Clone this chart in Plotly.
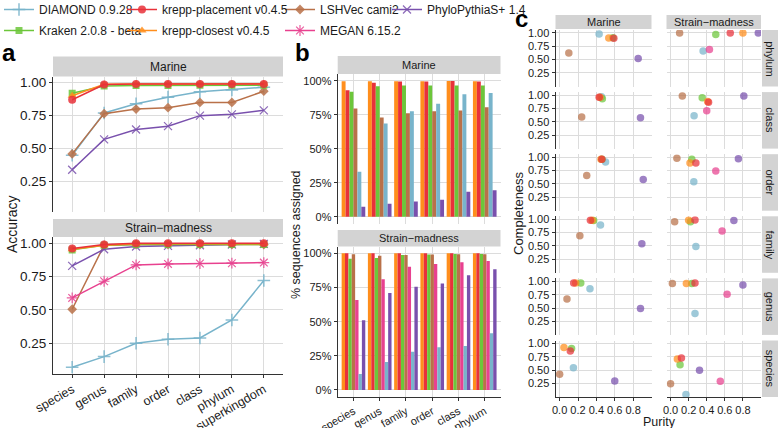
import plotly.graph_objects as go

W, H = 778, 428
FONT = "Liberation Sans, Arial, Helvetica, sans-serif"
GRID = "#DCDCDC"
AXLINE = "#333333"
STRIP = "#D3D3D3"
TXT = "#1A1A1A"

# ---------------- data ----------------
methods = ["DIAMOND 0.9.28", "Kraken 2.0.8 - beta", "krepp-placement v0.4.5",
           "krepp-closest v0.4.5", "LSHVec cami2", "MEGAN 6.15.2", "PhyloPythiaS+ 1.4"]
ranks_a = ["species", "genus", "family", "order", "class", "phylum", "superkingdom"]
ranks_b = ["species", "genus", "family", "order", "class", "phylum"]
ranks_c = ["species", "genus", "family", "order", "class", "phylum"]
datasets = ["Marine", "Strain\u2212madness"]

# panel a: accuracy (species ... superkingdom)
acc_marine_diamond = [0.45, 0.77, 0.84, 0.89, 0.93, 0.945, 0.965]
acc_marine_kraken = [0.92, 0.975, 0.978, 0.978, 0.98, 0.98, 0.98]
acc_marine_placement = [0.87, 0.985, 0.99, 0.99, 0.99, 0.99, 0.99]
acc_marine_closest = [0.90, 0.987, 0.99, 0.99, 0.992, 0.992, 0.992]
acc_marine_lshvec = [0.46, 0.765, 0.80, 0.81, 0.85, 0.85, 0.935]
acc_marine_phylo = [0.34, 0.57, 0.645, 0.67, 0.75, 0.76, 0.79]

acc_sm_diamond = [0.07, 0.15, 0.25, 0.28, 0.29, 0.425, 0.72]
acc_sm_kraken = [0.95, 0.985, 0.99, 0.99, 0.99, 0.99, 0.99]
acc_sm_placement = [0.96, 0.99, 1.0, 1.0, 1.0, 1.0, 1.0]
acc_sm_closest = [0.955, 0.985, 0.995, 0.995, 0.995, 0.995, 0.995]
acc_sm_lshvec = [0.505, 0.985, 0.99, 0.99, 0.99, 0.99, 0.99]
acc_sm_megan = [0.59, 0.715, 0.837, 0.845, 0.848, 0.85, 0.855]
acc_sm_phylo = [0.83, 0.955, 0.975, 0.98, 0.985, 0.99, 0.995]

# panel b: % sequences assigned (species ... phylum)
pct_marine_closest = [99.6, 99.6, 99.6, 99.6, 99.8, 99.6]
pct_marine_placement = [93.0, 98.5, 99.5, 99.5, 99.8, 99.5]
pct_marine_kraken = [91.8, 96.0, 96.5, 96.5, 96.5, 96.5]
pct_marine_lshvec = [79.5, 73.0, 76.0, 77.5, 78.0, 80.5]
pct_marine_diamond = [33.0, 68.5, 77.5, 83.0, 90.0, 91.0]
pct_marine_phylo = [7.3, 9.6, 11.2, 12.5, 18.4, 19.4]

pct_sm_closest = [100, 100, 100, 100, 100, 100]
pct_sm_placement = [100, 100, 100, 100, 100, 100]
pct_sm_kraken = [96.0, 96.6, 98.8, 99.2, 99.5, 99.5]
pct_sm_lshvec = [99.4, 98.2, 98.8, 99.2, 99.4, 99.4]
pct_sm_megan = [65.9, 81.0, 90.2, 92.2, 93.4, 94.4]
pct_sm_diamond = [11.7, 20.5, 28.0, 31.2, 32.2, 41.5]
pct_sm_phylo = [51.0, 71.0, 75.6, 78.0, 84.0, 88.3]

# panel c: purity / completeness (species ... phylum)
pur_marine_diamond = [0.15, 0.33, 0.445, 0.50, 0.455, 0.43]
com_marine_diamond = [0.545, 0.86, 0.89, 0.91, 0.97, 0.98]
pur_marine_lshvec = [0.0, 0.08, 0.22, 0.295, 0.24, 0.10]
com_marine_lshvec = [0.425, 0.67, 0.69, 0.655, 0.59, 0.625]
pur_marine_phylo = [0.60, 0.88, 0.895, 0.91, 0.88, 0.855]
com_marine_phylo = [0.295, 0.49, 0.54, 0.58, 0.575, 0.52]
pur_marine_kraken = [0.13, 0.23, 0.37, 0.46, 0.465, 0.58]
com_marine_kraken = [0.905, 0.97, 0.975, 0.96, 0.93, 0.91]
pur_marine_closest = [0.047, 0.175, 0.355, 0.45, 0.44, 0.535]
com_marine_closest = [0.925, 0.97, 0.98, 0.96, 0.96, 0.905]
pur_marine_placement = [0.116, 0.153, 0.335, 0.46, 0.43, 0.59]
com_marine_placement = [0.86, 0.97, 0.98, 0.96, 0.96, 0.90]

pur_sm_diamond = [0.17, 0.27, 0.28, 0.257, 0.26, 0.36]
com_sm_diamond = [0.045, 0.40, 0.49, 0.54, 0.61, 0.66]
pur_sm_lshvec = [0.0, 0.02, 0.045, 0.07, 0.13, 0.10]
com_sm_lshvec = [0.245, 0.96, 0.955, 0.98, 0.98, 1.0]
pur_sm_megan = [0.55, 0.625, 0.57, 0.50, 0.40, 0.43]
com_sm_megan = [0.29, 0.76, 0.78, 0.74, 0.705, 0.69]
pur_sm_phylo = [0.32, 0.80, 0.70, 0.75, 0.81, 0.97]
com_sm_phylo = [0.50, 0.93, 0.975, 0.97, 0.98, 1.0]
pur_sm_kraken = [0.105, 0.235, 0.22, 0.235, 0.35, 0.50]
com_sm_kraken = [0.60, 0.96, 0.955, 0.96, 0.95, 0.97]
pur_sm_closest = [0.075, 0.175, 0.20, 0.215, 0.41, 0.80]
com_sm_closest = [0.71, 0.96, 0.98, 0.89, 0.88, 1.0]
pur_sm_placement = [0.12, 0.27, 0.27, 0.28, 0.42, 0.66]
com_sm_placement = [0.725, 0.97, 0.985, 0.89, 0.865, 1.0]

# ---------------- styles ----------------
COL = {
    "DIAMOND 0.9.28": "#78B4CB",
    "Kraken 2.0.8 - beta": "#6CC63A",
    "krepp-placement v0.4.5": "#E8313A",
    "krepp-closest v0.4.5": "#FF8E1C",
    "LSHVec cami2": "#B97149",
    "MEGAN 6.15.2": "#E8418F",
    "PhyloPythiaS+ 1.4": "#7950AD",
}
SYM = {
    "DIAMOND 0.9.28": ("cross-thin", 9, 1.5),
    "Kraken 2.0.8 - beta": ("square", 7, 0),
    "krepp-placement v0.4.5": ("circle", 8, 0),
    "krepp-closest v0.4.5": ("triangle-up", 8, 0),
    "LSHVec cami2": ("diamond", 7.5, 0),
    "MEGAN 6.15.2": ("asterisk", 9, 1.2),
    "PhyloPythiaS+ 1.4": ("x-thin", 8, 1.2),
}
LEG = {
    "DIAMOND 0.9.28": ("legend", 1),
    "Kraken 2.0.8 - beta": ("legend", 2),
    "krepp-placement v0.4.5": ("legend2", 1),
    "krepp-closest v0.4.5": ("legend2", 2),
    "LSHVec cami2": ("legend3", 1),
    "MEGAN 6.15.2": ("legend3", 2),
    "PhyloPythiaS+ 1.4": ("legend4", 1),
}

fig = go.Figure()
axes = {}
shapes = []
annotations = []
count = [0]


def new_axes(x0, x1, y0, y1, xkw, ykw):
    count[0] += 1
    i = count[0]
    s = "" if i == 1 else str(i)
    axes["xaxis" + s] = dict(domain=[x0 / W, x1 / W], anchor="y" + s, **xkw)
    axes["yaxis" + s] = dict(domain=[1 - y1 / H, 1 - y0 / H], anchor="x" + s, **ykw)
    return "x" + s, "y" + s


def base(show_labels=False, line=False, ticks=False, size=12, **kw):
    d = dict(showgrid=True, gridcolor=GRID, gridwidth=1.1, zeroline=False,
             showline=line, linecolor=AXLINE, linewidth=1,
             ticks="outside" if ticks else "", ticklen=3, tickcolor=AXLINE,
             showticklabels=show_labels, fixedrange=True, automargin=False,
             tickfont=dict(family=FONT, size=size, color=TXT))
    d.update(kw)
    return d


def strip(x0, x1, y0, y1, text, size, angle=0):
    shapes.append(dict(type="rect", xref="paper", yref="paper",
                       x0=x0 / W, x1=x1 / W, y0=1 - y1 / H, y1=1 - y0 / H,
                       fillcolor=STRIP, line=dict(width=0)))
    annotations.append(dict(xref="paper", yref="paper", x=(x0 + x1) / 2 / W,
                            y=1 - (y0 + y1) / 2 / H, text=text, showarrow=False,
                            textangle=angle, xanchor="center", yanchor="middle",
                            font=dict(family=FONT, size=size, color=TXT)))


def label(x, y, text, size, angle=0, bold=False, xanchor="center"):
    annotations.append(dict(xref="paper", yref="paper", x=x / W, y=1 - y / H,
                            text=("<b>%s</b>" % text) if bold else text,
                            showarrow=False, textangle=angle, xanchor=xanchor,
                            yanchor="middle",
                            font=dict(family=FONT, size=size, color="#000" if bold else TXT)))


# ---------------- panel a ----------------
ya_ticks = dict(tickvals=[0.25, 0.5, 0.75, 1.0], ticktext=["0.25", "0.50", "0.75", "1.00"])
a_rows = [(76.5, 211.5, 56.5, False), (237.0, 373.5, 219.0, True)]
a_series = [
    [("DIAMOND 0.9.28", acc_marine_diamond), ("LSHVec cami2", acc_marine_lshvec),
     ("PhyloPythiaS+ 1.4", acc_marine_phylo), ("Kraken 2.0.8 - beta", acc_marine_kraken),
     ("krepp-closest v0.4.5", acc_marine_closest), ("krepp-placement v0.4.5", acc_marine_placement)],
    [("DIAMOND 0.9.28", acc_sm_diamond), ("LSHVec cami2", acc_sm_lshvec),
     ("MEGAN 6.15.2", acc_sm_megan), ("PhyloPythiaS+ 1.4", acc_sm_phylo),
     ("Kraken 2.0.8 - beta", acc_sm_kraken), ("krepp-closest v0.4.5", acc_sm_closest),
     ("krepp-placement v0.4.5", acc_sm_placement)],
]
shown = set()
for r, (y0, y1, sy, bottom) in enumerate(a_rows):
    xr, yr = new_axes(53, 283, y0, y1,
                      base(show_labels=bottom, line=bottom, ticks=bottom, size=12.5,
                           type="category", categoryorder="array", categoryarray=ranks_a,
                           range=[-0.6, 6.6], tickangle=-30),
                      base(show_labels=True, line=True, ticks=True, size=13.5,
                           range=[0.0235, 1.0465], **ya_ticks))
    strip(53, 283, sy, y0, datasets[r], 12)
    for name, vals in a_series[r]:
        sym, sz, lw = SYM[name]
        lg, rank = LEG[name]
        fig.add_trace(go.Scatter(
            x=ranks_a, y=vals, mode="lines+markers", name=name,
            xaxis=xr, yaxis=yr, legend=lg, legendrank=rank, legendgroup=name,
            showlegend=name not in shown,
            line=dict(color=COL[name], width=1.5),
            marker=dict(symbol=sym, size=sz, color=COL[name], opacity=0.85,
                        line=dict(color=COL[name], width=lw)),
            hoverinfo="skip"))
        shown.add(name)

label(12, 224, "Accuracy", 14, angle=-90)
label(0, 52, "a", 24, bold=True, xanchor="left")

# ---------------- panel b ----------------
b_rows = [(73.9, 223.5, 56.0, False), (246.5, 396.8, 230.0, True)]
b_series = [
    [("krepp-closest v0.4.5", pct_marine_closest), ("krepp-placement v0.4.5", pct_marine_placement),
     ("Kraken 2.0.8 - beta", pct_marine_kraken), ("LSHVec cami2", pct_marine_lshvec),
     ("DIAMOND 0.9.28", pct_marine_diamond), ("PhyloPythiaS+ 1.4", pct_marine_phylo)],
    [("krepp-closest v0.4.5", pct_sm_closest), ("krepp-placement v0.4.5", pct_sm_placement),
     ("Kraken 2.0.8 - beta", pct_sm_kraken), ("LSHVec cami2", pct_sm_lshvec),
     ("MEGAN 6.15.2", pct_sm_megan), ("DIAMOND 0.9.28", pct_sm_diamond),
     ("PhyloPythiaS+ 1.4", pct_sm_phylo)],
]
for r, (y0, y1, sy, bottom) in enumerate(b_rows):
    xr, yr = new_axes(337.7, 500.5, y0, y1,
                      base(show_labels=bottom, line=bottom, ticks=bottom, size=11,
                           type="category", categoryorder="array", categoryarray=ranks_b,
                           range=[-0.6, 5.6], tickangle=-30),
                      base(show_labels=True, line=True, ticks=True, size=11,
                           range=[-5, 105], tickvals=[0, 25, 50, 75, 100],
                           ticktext=["0%", "25%", "50%", "75%", "100%"]))
    strip(337.7, 500.5, sy, y0, datasets[r], 11)
    for name, vals in b_series[r]:
        fig.add_trace(go.Bar(x=ranks_b, y=vals, name=name, xaxis=xr, yaxis=yr,
                             marker=dict(color=COL[name], line=dict(width=0)),
                             showlegend=False, hoverinfo="skip"))

label(296, 235, "% sequences assigned", 12.5, angle=-90)
label(293, 52, "b", 24, bold=True, xanchor="left")

# ---------------- panel c ----------------
c_cols = [(555.5, 651.5), (666.5, 761.0)]
row_names = ["phylum", "class", "order", "family", "genus", "species"]
c_series = [
    [("DIAMOND 0.9.28", pur_marine_diamond, com_marine_diamond),
     ("LSHVec cami2", pur_marine_lshvec, com_marine_lshvec),
     ("PhyloPythiaS+ 1.4", pur_marine_phylo, com_marine_phylo),
     ("Kraken 2.0.8 - beta", pur_marine_kraken, com_marine_kraken),
     ("krepp-closest v0.4.5", pur_marine_closest, com_marine_closest),
     ("krepp-placement v0.4.5", pur_marine_placement, com_marine_placement)],
    [("DIAMOND 0.9.28", pur_sm_diamond, com_sm_diamond),
     ("LSHVec cami2", pur_sm_lshvec, com_sm_lshvec),
     ("MEGAN 6.15.2", pur_sm_megan, com_sm_megan),
     ("PhyloPythiaS+ 1.4", pur_sm_phylo, com_sm_phylo),
     ("Kraken 2.0.8 - beta", pur_sm_kraken, com_sm_kraken),
     ("krepp-closest v0.4.5", pur_sm_closest, com_sm_closest),
     ("krepp-placement v0.4.5", pur_sm_placement, com_sm_placement)],
]
ROW_H, ROW_P, ROW_T = 56.5, 62.1, 30.0
for ri, rank in enumerate(row_names):
    y0 = ROW_T + ri * ROW_P
    y1 = y0 + ROW_H
    k = ranks_c.index(rank)
    last = ri == len(row_names) - 1
    for ci, (x0, x1) in enumerate(c_cols):
        xr, yr = new_axes(x0, x1, y0, y1,
                          base(show_labels=last, line=last, ticks=last, size=11,
                               range=[-0.045, 1.0], tickvals=[0, 0.2, 0.4, 0.6, 0.8],
                               ticktext=["0.0", "0.2", "0.4", "0.6", "0.8"]),
                          base(show_labels=(ci == 0), line=(ci == 0), ticks=(ci == 0), size=11,
                               range=[-0.003, 1.055], **ya_ticks))
        for name, pur, com in c_series[ci]:
            fig.add_trace(go.Scatter(
                x=[pur[k]], y=[com[k]], mode="markers", name=name,
                xaxis=xr, yaxis=yr, showlegend=False, hoverinfo="skip",
                marker=dict(symbol="circle", size=7.5, color=COL[name], opacity=0.72,
                            line=dict(width=0))))
        if ri == 0:
            strip(x0, x1, 15.0, 29.0, datasets[ci], 11)
    strip(762.0, 778.0, y0, y1, rank, 11, angle=90)

label(518, 213, "Completeness", 13, angle=-90)
label(659, 422, "Purity", 12.5)
label(513, 19, "c", 24, bold=True, xanchor="left")

# ---------------- legends ----------------
def leg(x):
    return dict(x=x / W, y=1.0 + 5.0 / H, xanchor="left", yanchor="top", orientation="v",
                bgcolor="rgba(0,0,0,0)", borderwidth=0, tracegroupgap=2,
                font=dict(family=FONT, size=12, color=TXT), itemwidth=30)

fig.update_layout(
    width=W, height=H, margin=dict(l=0, r=0, t=0, b=0, autoexpand=False),
    paper_bgcolor="white", plot_bgcolor="white",
    font=dict(family=FONT, size=12, color=TXT),
    barmode="group", bargap=0.1, bargroupgap=0,
    showlegend=True,
    legend=leg(-1), legend2=leg(122), legend3=leg(280), legend4=leg(387),
    shapes=shapes, annotations=annotations,
    **axes,
)

fig.write_html("out.html")
